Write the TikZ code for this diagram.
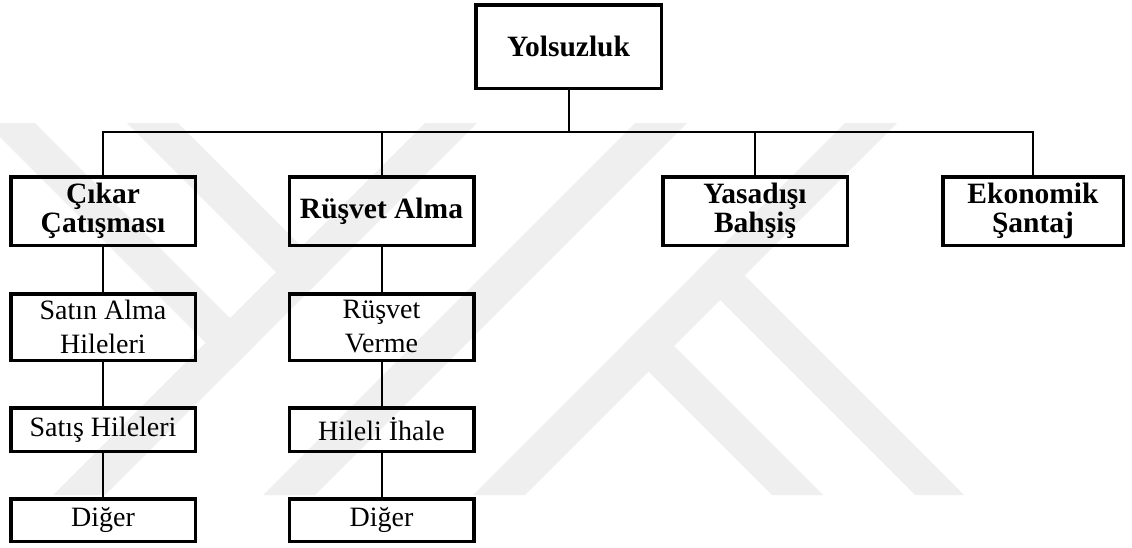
\documentclass[tikz,border=0pt]{standalone}
\usepackage{fontspec}
\setmainfont{Liberation Serif}
\definecolor{wmgray}{RGB}{239,239,239}
\begin{document}
\begin{tikzpicture}[x=1pt,y=-1pt,
  box/.style={draw=black, line width=3.5pt, rectangle, inner sep=0pt, align=center},
  headbox/.style={box, font=\fontsize{29.5}{28.5}\selectfont\bfseries},
  subbox/.style={box, font=\fontsize{28}{34}\selectfont},
  conn/.style={draw=black, line width=2pt},
  band/.style={fill=wmgray, draw=none}]
\fill[white] (0,0) rectangle (1132,547);
\useasboundingbox (0,0) rectangle (1132,547);

% faint background emblem
\begin{scope}
  \clip (0,0) rectangle (1132,547);
  % right half
  \fill[band] (845,123) -- (897,123) -- (525,495) -- (473,495) -- cycle;
  \fill[band] (694,274) -- (718.5,249.5) -- (964,495) -- (915,495) -- cycle;
  \fill[band] (622.5,345.5) -- (648,320) -- (823,495) -- (772,495) -- cycle;
  % middle stroke
  \fill[band] (635,123) -- (687,123) -- (315,495) -- (263,495) -- cycle;
  % left half
  \fill[band] (105,495) -- (53,495) -- (425,123) -- (477,123) -- cycle;
  \fill[band] (256,344) -- (231.5,368.5) -- (-14,123) -- (35,123) -- cycle;
  \fill[band] (327.5,272.5) -- (302,298) -- (127,123) -- (178,123) -- cycle;
\end{scope}

% root
\node[headbox, minimum width=185.5pt, minimum height=83.5pt] (root) at (568.5,46.5) {Yolsuzluk};

% first level
\node[headbox, minimum width=184.5pt, minimum height=68.5pt] (cikar) at (103,211) {Çıkar\\Çatışması};
\node[headbox, minimum width=184.5pt, minimum height=68.5pt] (rusvet) at (381.5,211) {Rüşvet Alma};
\node[headbox, minimum width=184.5pt, minimum height=68.5pt] (yasadisi) at (755,211) {Yasadışı\\Bahşiş};
\node[headbox, minimum width=180.5pt, minimum height=68.5pt] (ekonomik) at (1033,211) {Ekonomik\\Şantaj};

% second level
\node[subbox, minimum width=184.5pt, minimum height=66.5pt] (satinalma) at (103,327) {Satın Alma\\Hileleri};
\node[subbox, minimum width=184.5pt, minimum height=66.5pt] (rusvetverme) at (381.5,327) {Rüşvet\\Verme};

% third level
\node[subbox, minimum width=184.5pt, minimum height=43.5pt] (satis) at (103,429.5) {Satış Hileleri};
\node[subbox, minimum width=184.5pt, minimum height=43.5pt] (ihale) at (381.5,429.5) {Hileli İhale};

% fourth level
\node[subbox, minimum width=184.5pt, minimum height=42.5pt] (digerA) at (103,520) {Diğer};
\node[subbox, minimum width=184.5pt, minimum height=42.5pt] (digerB) at (381.5,520) {Diğer};

% connectors
\coordinate (bus) at (568.5,132);
\draw[conn] (root.south) -- (bus);
\draw[conn] (cikar.north) |- (bus) -| (ekonomik.north);
\draw[conn] (rusvet.north) -- (rusvet.north |- bus);
\draw[conn] (yasadisi.north) -- (yasadisi.north |- bus);

\draw[conn] (cikar.south) -- (satinalma.north);
\draw[conn] (satinalma.south) -- (satis.north);
\draw[conn] (satis.south) -- (digerA.north);

\draw[conn] (rusvet.south) -- (rusvetverme.north);
\draw[conn] (rusvetverme.south) -- (ihale.north);
\draw[conn] (ihale.south) -- (digerB.north);
\end{tikzpicture}
\end{document}
